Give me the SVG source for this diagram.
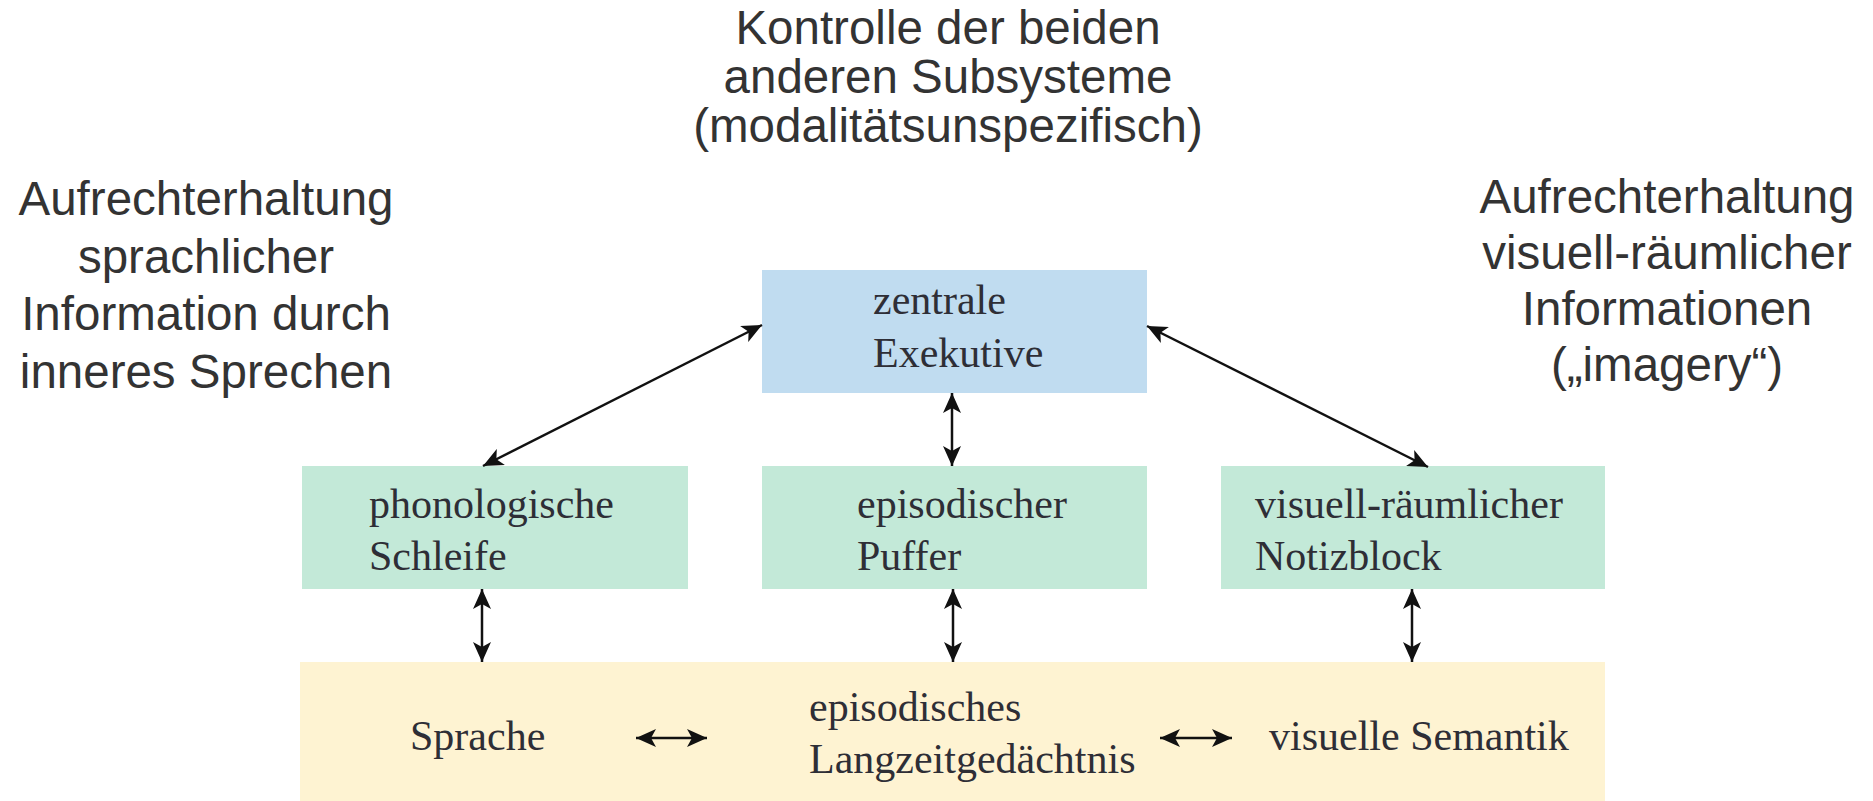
<svg xmlns="http://www.w3.org/2000/svg" width="1873" height="801" viewBox="0 0 1873 801">
<style>
.sans{font-family:"Liberation Sans",Arial,sans-serif;font-size:47.5px;fill:#333333;text-anchor:middle}
.serif{font-family:"Liberation Serif","Times New Roman",serif;font-size:42px;fill:#2e2e36}
.blue{fill:#c0dcf0}
.green{fill:#c3e9d8}
.yellow{fill:#fef3d2}
.conn{stroke:#111111;stroke-width:2.5;fill:none;marker-start:url(#ah);marker-end:url(#ah)}
</style>
<defs>
<marker id="ah" viewBox="0 0 20 18" refX="20" refY="9" markerWidth="20" markerHeight="18" markerUnits="userSpaceOnUse" orient="auto-start-reverse">
<path d="M0,0 L20,9 L0,18 L5,9 Z" fill="#111111"/>
</marker>
</defs>
<rect width="1873" height="801" fill="#ffffff"/>
<g id="label-top">
<text class="sans" x="948" y="44">Kontrolle der beiden</text>
<text class="sans" x="948" y="93">anderen Subsysteme</text>
<text class="sans" x="948" y="142">(modalitätsunspezifisch)</text>
</g>
<g id="label-left">
<text class="sans" x="206" y="215">Aufrechterhaltung</text>
<text class="sans" x="206" y="272.5">sprachlicher</text>
<text class="sans" x="206" y="330">Information durch</text>
<text class="sans" x="206" y="387.5">inneres Sprechen</text>
</g>
<g id="label-right">
<text class="sans" x="1667" y="213">Aufrechterhaltung</text>
<text class="sans" x="1667" y="269">visuell-räumlicher</text>
<text class="sans" x="1667" y="325">Informationen</text>
<text class="sans" x="1667" y="381">(„imagery“)</text>
</g>
<g id="zentrale-exekutive">
<rect class="blue" x="762" y="270" width="385" height="123"/>
<text class="serif" x="873" y="314">zentrale</text>
<text class="serif" x="873" y="367">Exekutive</text>
</g>
<g id="phonologische-schleife">
<rect class="green" x="302" y="466" width="386" height="123"/>
<text class="serif" x="369" y="518">phonologische</text>
<text class="serif" x="369" y="570">Schleife</text>
</g>
<g id="episodischer-puffer">
<rect class="green" x="762" y="466" width="385" height="123"/>
<text class="serif" x="857" y="518">episodischer</text>
<text class="serif" x="857" y="570">Puffer</text>
</g>
<g id="visuell-raeumlicher-notizblock">
<rect class="green" x="1221" y="466" width="384" height="123"/>
<text class="serif" x="1255" y="518">visuell-räumlicher</text>
<text class="serif" x="1255" y="570">Notizblock</text>
</g>
<g id="langzeitgedaechtnis">
<rect class="yellow" x="300" y="662" width="1305" height="139"/>
<text class="serif" x="410" y="750">Sprache</text>
<text class="serif" x="809" y="721">episodisches</text>
<text class="serif" x="809" y="773">Langzeitgedächtnis</text>
<text class="serif" x="1269" y="750">visuelle Semantik</text>
</g>
<g id="connectors">
<line class="conn" x1="483" y1="466" x2="762" y2="325"/>
<line class="conn" x1="1147" y1="326" x2="1428" y2="467"/>
<line class="conn" x1="952" y1="393" x2="952" y2="466"/>
<line class="conn" x1="482" y1="589" x2="482" y2="662"/>
<line class="conn" x1="953" y1="589" x2="953" y2="662"/>
<line class="conn" x1="1412" y1="589" x2="1412" y2="662"/>
<line class="conn" x1="636" y1="738" x2="707" y2="738"/>
<line class="conn" x1="1160" y1="738" x2="1232" y2="738"/>
</g>
</svg>
